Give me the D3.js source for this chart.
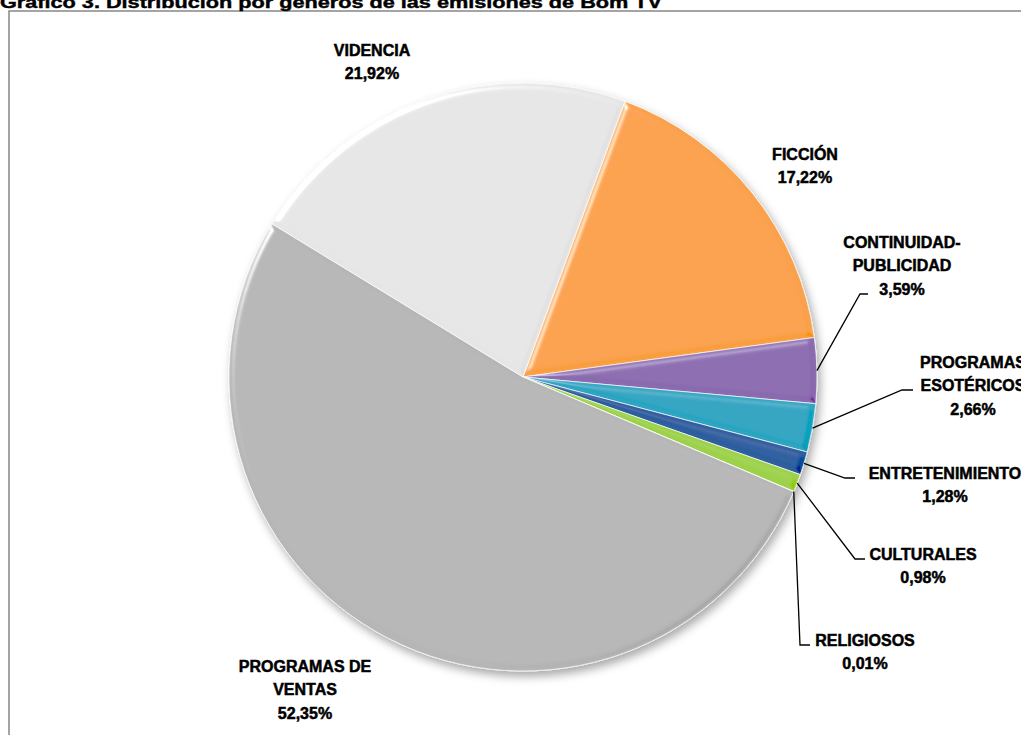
<!DOCTYPE html>
<html>
<head>
<meta charset="utf-8">
<script src="https://cdn.jsdelivr.net/npm/d3@7"></script>
<style>
  html, body { margin: 0; padding: 0; background: #fff; overflow: hidden; }
  svg { display: block; }
</style>
</head>
<body>
<div id="chart"></div>
<script>
const title = 'Gráfico 3. Distribución por géneros de las emisiones de Bom TV'
const categories = ['FICCIÓN', 'CONTINUIDAD-PUBLICIDAD', 'PROGRAMAS ESOTÉRICOS', 'ENTRETENIMIENTO',
    'CULTURALES', 'RELIGIOSOS', 'PROGRAMAS DE VENTAS', 'VIDENCIA']
const values = [17.22, 3.59, 2.66, 1.28, 0.98, 0.01, 52.35, 21.92]
const labelLines = [['FICCIÓN'], ['CONTINUIDAD-', 'PUBLICIDAD'], ['PROGRAMAS', 'ESOTÉRICOS'], ['ENTRETENIMIENTO'],
    ['CULTURALES'], ['RELIGIOSOS'], ['PROGRAMAS DE', 'VENTAS'], ['VIDENCIA']]
const colors = ['#faa14d', '#8c6db0', '#2fa5c1', '#2e5e9f', '#9dd14b', '#c8c8c8', '#b6b6b6', '#e6e6e6']

// label placement (centre x, first baseline, elbow of leader line)
const labelPos = [
    { x: 805, y: 160 },
    { x: 902, y: 248, elbow: [860, 294], end: 868 },
    { x: 973, y: 368, elbow: [902, 390], end: 913 },
    { x: 945, y: 479, elbow: [845, 478], end: 855 },
    { x: 923, y: 560, elbow: [855, 559], end: 865 },
    { x: 865, y: 646, elbow: [800, 645], end: 810 },
    { x: 305, y: 672 },
    { x: 372, y: 56 }
]

const W = 1021, H = 735
const cx = 523, cy = 377, radius = 294
const startDeg = 20.3
const lineH = 23.3
const fmt = v => d3.format('.2f')(v).replace('.', ',') + '%'

const svg = d3.select('#chart').append('svg').attr('width', W).attr('height', H)
const defs = svg.append('defs')

const shadow = defs.append('filter').attr('id', 'shadow')
    .attr('x', '-10%').attr('y', '-10%').attr('width', '125%').attr('height', '125%')
shadow.append('feDropShadow').attr('dx', 3).attr('dy', 5).attr('stdDeviation', 5)
    .attr('flood-color', '#000').attr('flood-opacity', 0.35)

// bevel: light from upper left, dark on the lower right edges
const bevel = defs.append('filter').attr('id', 'bevel')
    .attr('x', '-5%').attr('y', '-5%').attr('width', '110%').attr('height', '110%')
bevel.append('feGaussianBlur').attr('in', 'SourceAlpha').attr('stdDeviation', 3).attr('result', 'blur')
const spec = bevel.append('feSpecularLighting').attr('in', 'blur').attr('surfaceScale', 4)
    .attr('specularConstant', 0.9).attr('specularExponent', 30)
    .attr('lighting-color', '#ffffff').attr('result', 'spec')
spec.append('feDistantLight').attr('azimuth', 225).attr('elevation', 30)
bevel.append('feComposite').attr('in', 'spec').attr('in2', 'SourceAlpha').attr('operator', 'in').attr('result', 'specOut')
const spec2 = bevel.append('feSpecularLighting').attr('in', 'blur').attr('surfaceScale', 4)
    .attr('specularConstant', 0.5).attr('specularExponent', 30)
    .attr('lighting-color', '#ffffff').attr('result', 'dark')
spec2.append('feDistantLight').attr('azimuth', 45).attr('elevation', 30)
bevel.append('feComposite').attr('in', 'dark').attr('in2', 'SourceAlpha').attr('operator', 'in').attr('result', 'darkOut')
bevel.append('feComposite').attr('in', 'SourceGraphic').attr('in2', 'specOut')
    .attr('operator', 'arithmetic').attr('k1', 0).attr('k2', 1).attr('k3', 0.8).attr('k4', 0).attr('result', 'lit')
bevel.append('feComposite').attr('in', 'lit').attr('in2', 'darkOut')
    .attr('operator', 'arithmetic').attr('k1', 0).attr('k2', 1).attr('k3', -0.35).attr('k4', 0)

// frame and title
svg.append('rect').attr('x', 9).attr('y', 11).attr('width', W + 20).attr('height', H + 20)
    .attr('fill', 'none').attr('stroke', '#8e8e8e').attr('stroke-width', 1.6)
svg.append('text').attr('x', 0).attr('y', 7.5)
    .attr('font-family', '"Liberation Sans Narrow", "Arial Narrow", "Liberation Sans", sans-serif')
    .attr('font-weight', 'bold').attr('font-size', '16px')
    .attr('stroke', '#000').attr('stroke-width', 0.4)
    .attr('textLength', 662).attr('lengthAdjust', 'spacingAndGlyphs')
    .text(title)

const data = categories.map((c, i) => ({ name: c, value: values[i], i }))
const start = startDeg * Math.PI / 180
const pie = d3.pie().value(d => d.value).sort(null).startAngle(start).endAngle(start + 2 * Math.PI)
const arcs = pie(data)
const arc = d3.arc().innerRadius(0).outerRadius(radius)
const edge = d3.arc().innerRadius(radius).outerRadius(radius)

const g = svg.append('g').attr('transform', `translate(${cx},${cy})`)
const pieG = g.append('g').attr('filter', 'url(#shadow)')
pieG.selectAll('path')
    .data(arcs).enter()
    .append('path')
    .attr('d', arc)
    .attr('fill', d => colors[d.data.i])
    .attr('stroke', 'rgba(255,255,255,0.7)')
    .attr('stroke-width', 1)
    .attr('filter', 'url(#bevel)')

// leader lines
arcs.forEach(d => {
    const p = labelPos[d.data.i]
    if (!p.elbow) return
    const c = edge.centroid(d)
    svg.append('polyline')
        .attr('points', `${cx + c[0]},${cy + c[1]} ${p.elbow[0]},${p.elbow[1]} ${p.end},${p.elbow[1]}`)
        .attr('fill', 'none').attr('stroke', '#000').attr('stroke-width', 1.3)
})

// labels
arcs.forEach(d => {
    const p = labelPos[d.data.i]
    const lines = labelLines[d.data.i].concat([fmt(d.data.value)])
    const t = svg.append('text')
        .attr('text-anchor', 'middle')
        .attr('font-family', '"Liberation Sans", Arial, sans-serif')
        .attr('font-weight', 'bold').attr('font-size', '16px').attr('fill', '#000')
        .attr('stroke', '#000').attr('stroke-width', 0.5)
    lines.forEach((l, k) => {
        t.append('tspan').attr('x', p.x).attr('y', p.y + k * lineH).text(l)
    })
})
</script>
</body>
</html>
